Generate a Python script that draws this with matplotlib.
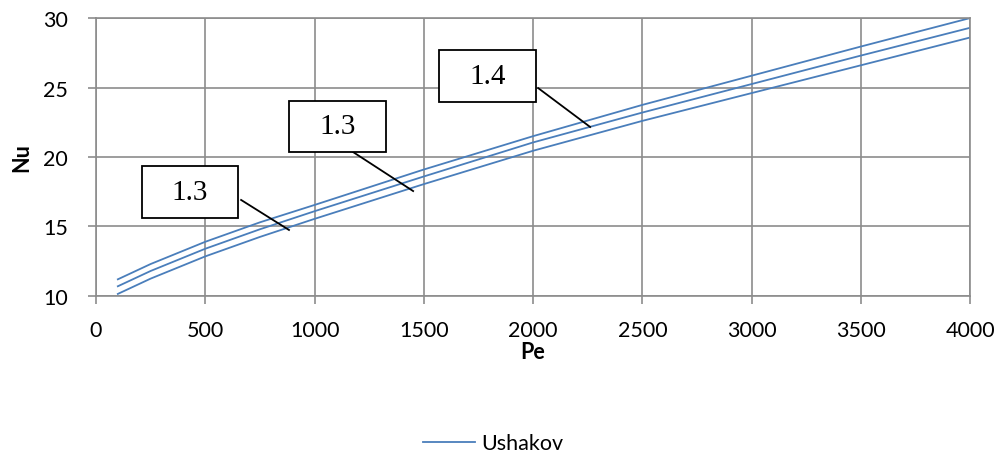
import matplotlib
matplotlib.use("Agg")
import matplotlib.pyplot as plt
from matplotlib.patches import Rectangle

# Values
pe = [100, 250, 500, 750, 1000, 1500, 2000, 2500, 3000, 3500, 4000]
nu_upper = [11.2, 12.3, 13.9, 15.3, 16.55, 19.1, 21.5, 23.75, 25.85, 27.95, 30.0]
nu_middle = [10.7, 11.8, 13.4, 14.8, 16.1, 18.6, 21.05, 23.2, 25.25, 27.3, 29.3]
nu_lower = [10.15, 11.25, 12.85, 14.25, 15.55, 18.05, 20.45, 22.6, 24.6, 26.6, 28.6]

x_ticks = [0, 500, 1000, 1500, 2000, 2500, 3000, 3500, 4000]
y_ticks = [10, 15, 20, 25, 30]
labels = ["1.4", "1.3", "1.3"]

line_color = "#4A7EBB"
grid_color = "#8C8C8C"
tick_font = "Lato"
fs = 15.5

fig = plt.figure(figsize=(10.02, 4.56), dpi=100)
ax = fig.add_axes([0.0958, 0.3487, 0.8725, 0.6096])

for ys in (nu_upper, nu_middle, nu_lower):
    ax.plot(pe, ys, color=line_color, linewidth=1.3, label="Ushakov")

ax.set_xlim(0, 4000)
ax.set_ylim(10, 30)
ax.set_xticks(x_ticks)
ax.set_yticks(y_ticks)
ax.grid(True, color=grid_color, linewidth=1.2)
ax.set_axisbelow(True)
for s in ax.spines.values():
    s.set_color(grid_color)
    s.set_linewidth(1.2)
ax.tick_params(colors=grid_color, length=6, width=1.2, direction="out",
               labelcolor="black", labelsize=fs)
ax.tick_params(axis="y", pad=14)
ax.tick_params(axis="x", pad=11)
for lab in ax.get_xticklabels() + ax.get_yticklabels():
    lab.set_fontfamily(tick_font)

ax.set_xlabel("Pe", fontsize=fs, fontweight="bold", fontfamily=tick_font, labelpad=1)
ax.set_ylabel("Nu", fontsize=fs, fontweight="bold", fontfamily=tick_font, labelpad=8)

# annotation boxes: (x0, y0, width, height) in data units, leader from -> to
boxes = [
    ((1570, 23.96, 444, 3.74), (2023, 24.96), (2261, 22.16)),
    ((883, 20.36, 444, 3.67), (1176, 20.36), (1451, 17.55)),
    ((211, 15.61, 439, 3.74), (664, 16.91), (883, 14.75)),
]
for text, (rect, p0, p1) in zip(labels, boxes):
    x0, y0, w, h = rect
    ax.plot([p0[0], p1[0]], [p0[1], p1[1]], color="black", linewidth=1.3, zorder=4)
    ax.add_patch(Rectangle((x0, y0), w, h, facecolor="white", edgecolor="black",
                           linewidth=1.3, zorder=5, clip_on=False))
    ax.text(x0 + w / 2, y0 + h / 2, text, ha="center", va="center",
            fontsize=21, fontfamily="Liberation Serif", zorder=6)

handles, _ = ax.get_legend_handles_labels()
fig.legend(handles[:1], ["Ushakov"], loc="center", bbox_to_anchor=(0.492, 0.026),
           frameon=False, handlelength=2.4, handletextpad=0.3,
           prop={"family": tick_font, "size": fs})

fig.savefig("out.png", dpi=100)
